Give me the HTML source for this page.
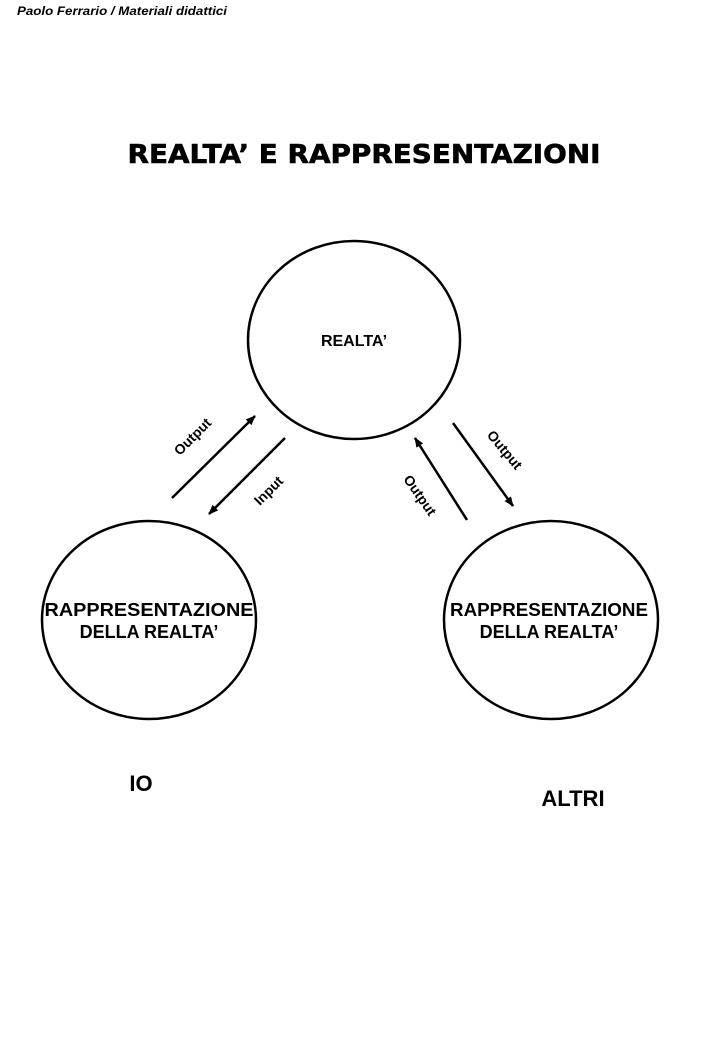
<!DOCTYPE html>
<html><head><meta charset="utf-8"><style>
html,body{margin:0;padding:0;background:#fff;}
svg{display:block;}
text{font-family:"Liberation Sans",Arial,sans-serif;font-weight:bold;fill:#000;}
</style></head><body>
<svg width="723" height="1044" viewBox="0 0 723 1044" xmlns="http://www.w3.org/2000/svg">
<defs><marker id="a" markerWidth="10" markerHeight="8" refX="9" refY="4" orient="auto" markerUnits="userSpaceOnUse"><path d="M0,0 L10,4 L0,8 Z" fill="#000"/></marker></defs>
<text x="17" y="15" font-size="12" font-style="italic" textLength="210" lengthAdjust="spacingAndGlyphs">Paolo Ferrario / Materiali didattici</text>
<text x="364" y="163" font-size="26" text-anchor="middle" style="font-family:'DejaVu Sans',sans-serif" stroke="#000" stroke-width="0.6" textLength="473" lengthAdjust="spacingAndGlyphs">REALTA’ E RAPPRESENTAZIONI</text>
<g fill="none" stroke="#000" stroke-width="2.5">
<ellipse cx="354" cy="340" rx="106" ry="99"/>
<ellipse cx="149" cy="620" rx="107" ry="99"/>
<ellipse cx="551" cy="620" rx="107" ry="99"/>
</g>
<g stroke="#000" stroke-width="2.5">
<line x1="172" y1="498" x2="255" y2="416" marker-end="url(#a)"/>
<line x1="285" y1="438" x2="209" y2="514" marker-end="url(#a)"/>
<line x1="467" y1="520" x2="415" y2="438" marker-end="url(#a)"/>
<line x1="453" y1="423" x2="513" y2="506" marker-end="url(#a)"/>
</g>
<text x="354" y="346" font-size="16" text-anchor="middle">REALTA’</text>
<text x="149" y="616" font-size="18" text-anchor="middle" textLength="209" lengthAdjust="spacingAndGlyphs">RAPPRESENTAZIONE</text>
<text x="149" y="638" font-size="18" text-anchor="middle">DELLA REALTA’</text>
<text x="549" y="616" font-size="18" text-anchor="middle" textLength="198" lengthAdjust="spacingAndGlyphs">RAPPRESENTAZIONE</text>
<text x="549" y="638" font-size="18" text-anchor="middle">DELLA REALTA’</text>
<text font-size="14" text-anchor="middle" transform="translate(196,440) rotate(-45)">Output</text>
<text font-size="14" text-anchor="middle" transform="translate(272,494) rotate(-45)">Input</text>
<text font-size="14" text-anchor="middle" transform="translate(416,498) rotate(55)">Output</text>
<text font-size="14" text-anchor="middle" transform="translate(501,453) rotate(50)">Output</text>
<text x="141" y="791" font-size="22" text-anchor="middle">IO</text>
<text x="573" y="806" font-size="22" text-anchor="middle">ALTRI</text>
</svg>
</body></html>
